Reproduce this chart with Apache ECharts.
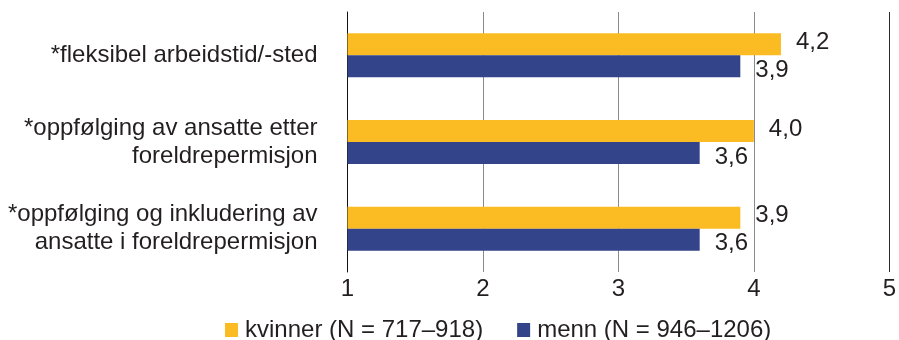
<!DOCTYPE html>
<html>
<head>
<meta charset="utf-8">
<script src="https://cdn.jsdelivr.net/npm/echarts@6/dist/echarts.min.js"></script>
<style>
  html, body { margin: 0; padding: 0; background: #fff; }
  #chart { width: 899px; height: 340px; }
</style>
</head>
<body>
<div id="chart"></div>
<script>
// Categories, top to bottom
const categories = [
  '*fleksibel arbeidstid/-sted',
  '*oppfølging av ansatte etter\nforeldrepermisjon',
  '*oppfølging og inkludering av\nansatte i foreldrepermisjon'
];
const seriesNames = ['kvinner (N = 717–918)', 'menn (N = 946–1206)'];
const kvinner = [4.2, 4.0, 3.9];
const menn = [3.9, 3.6, 3.6];
const xTicks = [1, 2, 3, 4, 5];

const FONT = '"Liberation Sans", Arial, sans-serif';
const TEXT = '#231f20';
const FS = 24;
const fmt = p => p.value.toFixed(1).replace('.', ',');

const chart = echarts.init(document.getElementById('chart'), null, { renderer: 'canvas' });
chart.setOption({
  animation: false,
  backgroundColor: '#ffffff',
  textStyle: { fontFamily: FONT, color: TEXT },
  grid: { left: 347.5, right: 8, top: 12, bottom: 68, containLabel: false },
  legend: {
    data: seriesNames,
    left: 220,
    top: 313,
    icon: 'rect',
    itemWidth: 13,
    itemHeight: 14,
    itemGap: 34,
    textStyle: { fontFamily: FONT, fontSize: FS, color: TEXT, padding: [0, 0, 0, 2] }
  },
  xAxis: {
    type: 'value',
    min: xTicks[0],
    max: xTicks[xTicks.length - 1],
    interval: 1,
    axisLine: { show: false },
    axisTick: { show: false },
    axisLabel: {
      fontFamily: FONT, fontSize: FS, color: TEXT, margin: 5,
      formatter: v => String(v)
    },
    splitLine: {
      show: true,
      showMinLine: true,
      showMaxLine: true,
      lineStyle: { color: ['#111111', '#8a8a8a', '#8a8a8a', '#8a8a8a', '#2a2a2a'], width: 1 }
    }
  },
  yAxis: {
    type: 'category',
    data: categories,
    inverse: true,
    axisLine: { show: true, lineStyle: { color: '#111111', width: 1 } },
    axisTick: { show: false },
    axisLabel: {
      fontFamily: FONT, fontSize: FS, color: TEXT, margin: 30,
      lineHeight: 28, align: 'right'
    }
  },
  series: [
    {
      name: seriesNames[0],
      type: 'bar',
      data: kvinner,
      barWidth: 22,
      barGap: '0%',
      itemStyle: { color: '#fbbb22' },
      label: {
        show: true, position: 'right', distance: 15, offset: [0, -2],
        fontFamily: FONT, fontSize: FS, color: TEXT, formatter: fmt
      }
    },
    {
      name: seriesNames[1],
      type: 'bar',
      data: menn,
      barWidth: 22,
      barGap: '0%',
      itemStyle: { color: '#34448a' },
      label: {
        show: true, position: 'right', distance: 15, offset: [0, 4],
        fontFamily: FONT, fontSize: FS, color: TEXT, formatter: fmt
      }
    }
  ]
});
</script>
</body>
</html>
